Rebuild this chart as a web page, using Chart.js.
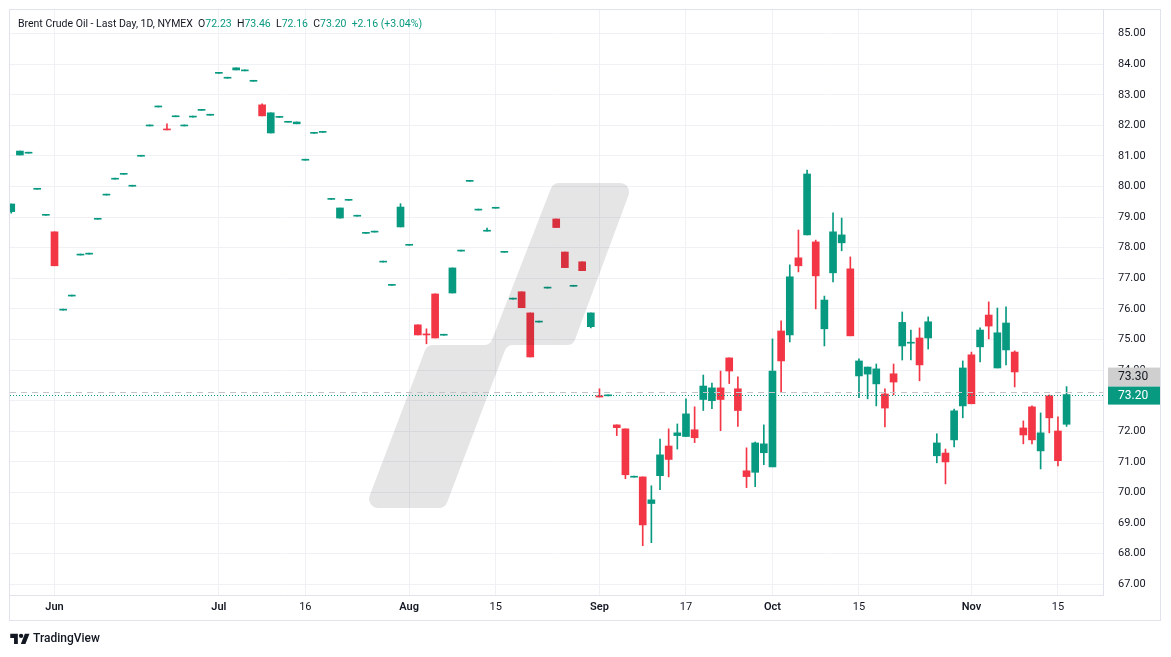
<!DOCTYPE html>
<html>
<head>
<meta charset="utf-8">
<script src="https://cdn.jsdelivr.net/npm/chart.js@4.4.0/dist/chart.umd.min.js"></script>
<style>
  body { margin: 0; background: #fff; }
  #wrap { position: relative; width: 1171px; height: 657px; font-family: Roboto, "Noto Sans", sans-serif; color: #131722; }
  #chart { position: absolute; left: 0; top: 0; }
  #legend { position: absolute; left: 18px; top: 17px; font-size: 10.5px; white-space: pre; }
  #legend .g { color: #089981; }
  #logo { position: absolute; left: 10px; top: 631px; font-size: 12px; font-weight: 500; display: flex; align-items: center; }
  #logo svg { margin-right: 3px; }
</style>
</head>
<body>
<div id="wrap">
  <canvas id="chart" width="1171" height="657"></canvas>
  <div id="legend"></div>
  <div id="logo">
    <svg width="20" height="13" viewBox="0 0 36 24"><path d="M14 22H7V11H0V3h14v19z" fill="#131722"/><circle cx="20" cy="7" r="4" fill="#131722"/><path d="M28 22h-8.5L27 3h8.5L28 22z" fill="#131722"/></svg>
    <span>TradingView</span>
  </div>
</div>
<script>
// trading days shown on the chart
var tradingDays = {
    May: [24, 28, 29, 30, 31],
    Jun: [3, 4, 5, 6, 7, 10, 11, 12, 13, 14, 17, 18, 20, 21, 24, 25, 26, 27, 28],
    Jul: [1, 2, 3, 5, 8, 9, 10, 11, 12, 15, 16, 17, 18, 19, 22, 23, 24, 25, 26, 29, 30, 31],
    Aug: [1, 2, 5, 6, 7, 8, 9, 12, 13, 14, 15, 16, 19, 20, 21, 22, 23, 26, 27, 28, 29, 30],
    Sep: [3, 4, 5, 6, 9, 10, 11, 12, 13, 16, 17, 18, 19, 20, 23, 24, 25, 26, 27, 30],
    Oct: [1, 2, 3, 4, 7, 8, 9, 10, 11, 14, 15, 16, 17, 18, 21, 22, 23, 24, 25, 28, 29, 30, 31],
    Nov: [1, 4, 5, 6, 7, 8, 11, 12, 13, 14, 15, 18]
};
var dates = [];
for (var m in tradingDays) {
    tradingDays[m].forEach(function (d) { dates.push(m + ' ' + d); });
}

var open = [
    79.18, 81.03, 81.09, 79.91, 79.06,
    78.52, 75.96, 76.42, 77.76, 77.79, 78.93, 79.72, 80.24, 80.40, 80.01,
    80.99, 81.98, 82.60, 81.88, 82.28, 81.98, 82.27, 82.49, 82.33, 83.70,
    83.54, 83.81, 83.78, 83.44, 82.67, 81.75, 82.26, 82.10, 82.05, 80.86,
    81.74, 81.77, 79.58, 78.97, 79.55, 79.03, 78.47, 78.51, 77.53, 76.77,
    78.68, 78.08, 75.48, 75.17, 76.49, 75.14, 76.52, 77.89, 80.17, 79.23,
    78.54, 79.29, 77.85, 76.32, 76.56, 75.87, 75.57, 76.68, 78.94, 77.86,
    76.74, 77.54, 75.42, 73.16, 73.16, 72.21, 72.08, 70.50, 70.51, 69.64,
    70.55, 71.52, 71.86, 71.83, 72.05, 73.04, 73.00, 73.42, 74.40, 73.39,
    70.71, 70.66, 71.30, 70.84, 75.28, 75.15, 77.67, 78.42, 78.19, 75.35,
    77.18, 78.16, 77.31, 73.81, 73.87, 73.55, 73.22, 73.88, 74.79, 74.88,
    75.05, 75.05, 71.20, 71.29, 71.72, 72.83, 74.50, 74.76, 75.80, 74.07,
    74.66, 74.59, 72.11, 72.80, 71.36, 73.16, 72.01, 72.23
];
var high = [
    79.43, 81.16, 81.09, 79.91, 79.06,
    78.52, 75.96, 76.42, 77.76, 77.79, 78.93, 79.72, 80.24, 80.40, 80.01,
    80.99, 81.98, 82.60, 82.05, 82.28, 81.98, 82.27, 82.49, 82.33, 83.70,
    83.54, 83.88, 83.78, 83.44, 82.70, 82.41, 82.26, 82.10, 82.11, 80.86,
    81.74, 81.77, 79.58, 79.30, 79.55, 79.03, 78.47, 78.51, 77.53, 76.77,
    79.44, 78.08, 75.48, 75.35, 76.49, 75.14, 77.34, 77.89, 80.17, 79.23,
    78.64, 79.29, 77.85, 76.32, 76.56, 75.87, 75.57, 76.68, 78.94, 77.86,
    76.74, 77.54, 75.87, 73.39, 73.16, 72.21, 72.08, 70.50, 70.51, 70.22,
    71.75, 72.08, 72.24, 73.06, 72.80, 73.84, 73.58, 73.97, 74.40, 73.78,
    71.46, 71.65, 72.21, 75.02, 75.61, 77.44, 78.58, 80.54, 78.25, 76.42,
    79.14, 78.97, 77.70, 74.37, 74.10, 74.20, 73.39, 74.20, 75.90, 75.31,
    75.38, 75.74, 71.92, 71.42, 72.73, 74.30, 74.59, 75.38, 76.23, 76.03,
    76.07, 74.63, 72.34, 72.83, 72.60, 73.19, 72.47, 73.46
];
var low = [
    79.13, 81.03, 81.09, 79.91, 79.06,
    77.41, 75.96, 76.42, 77.76, 77.79, 78.93, 79.72, 80.24, 80.40, 80.01,
    80.99, 81.98, 82.60, 81.85, 82.28, 81.98, 82.27, 82.49, 82.33, 83.70,
    83.54, 83.81, 83.78, 83.44, 82.31, 81.75, 82.26, 82.10, 82.05, 80.86,
    81.74, 81.77, 79.58, 78.97, 79.55, 79.03, 78.47, 78.51, 77.53, 76.77,
    78.68, 78.08, 75.15, 74.86, 75.05, 75.14, 76.52, 77.89, 80.17, 79.23,
    78.54, 79.29, 77.85, 76.32, 76.04, 74.43, 75.57, 76.68, 78.66, 77.35,
    76.74, 77.25, 75.38, 73.12, 73.16, 71.86, 70.45, 70.50, 68.26, 68.36,
    70.09, 70.51, 71.42, 71.83, 71.63, 72.68, 72.74, 72.02, 73.56, 72.16,
    70.16, 70.19, 70.91, 70.84, 73.29, 74.92, 77.21, 78.42, 76.00, 74.79,
    76.88, 77.90, 75.12, 73.10, 73.06, 72.83, 72.14, 73.19, 74.33, 74.33,
    73.65, 74.69, 70.97, 70.28, 71.49, 72.44, 72.90, 74.27, 75.02, 74.07,
    74.17, 73.45, 71.59, 71.59, 70.77, 71.95, 70.87, 72.16
];
var close = [
    79.43, 81.16, 81.09, 79.91, 79.06,
    77.41, 75.96, 76.42, 77.76, 77.79, 78.93, 79.72, 80.24, 80.40, 80.01,
    80.99, 81.98, 82.60, 81.85, 82.28, 81.98, 82.27, 82.49, 82.33, 83.70,
    83.54, 83.88, 83.78, 83.44, 82.31, 82.41, 82.26, 82.10, 82.11, 80.86,
    81.74, 81.77, 79.58, 79.30, 79.55, 79.03, 78.47, 78.51, 77.53, 76.77,
    79.33, 78.08, 75.15, 75.15, 75.05, 75.14, 77.34, 77.89, 80.17, 79.23,
    78.54, 79.29, 77.85, 76.32, 76.04, 74.43, 75.57, 76.68, 78.66, 77.35,
    76.74, 77.25, 75.87, 73.12, 73.16, 72.12, 70.58, 70.50, 68.94, 69.76,
    71.23, 71.08, 71.95, 72.57, 71.79, 73.48, 73.42, 73.04, 73.97, 72.68,
    70.52, 71.62, 71.59, 73.97, 74.30, 77.05, 77.41, 80.41, 77.08, 76.29,
    78.52, 78.42, 75.12, 74.30, 74.10, 74.04, 72.76, 73.61, 75.56, 74.88,
    74.17, 75.58, 71.62, 71.00, 72.67, 74.07, 72.90, 75.31, 75.44, 75.22,
    75.54, 73.94, 71.88, 71.72, 71.95, 72.44, 71.04, 73.20
];

var tickDates = ['Jun 3', 'Jul 1', 'Jul 16', 'Aug 1', 'Aug 15', 'Sep 3', 'Sep 17', 'Oct 1', 'Oct 15', 'Nov 1', 'Nov 15'];
var tickLabels = ['Jun', 'Jul', '16', 'Aug', '15', 'Sep', '17', 'Oct', '15', 'Nov', '15'];
var refPrice = 73.30;

var up = '#089981', down = '#f23645';
var colors = close.map(function (c, i) { return c >= open[i] ? up : down; });
var last = close.length - 1;
var lastPrice = close[last];

// legend line
var chg = close[last] - close[last - 1];
var pct = chg / close[last - 1] * 100;
document.getElementById('legend').innerHTML =
    'Brent Crude Oil - Last Day, 1D, NYMEX  O<span class="g">' + open[last].toFixed(2) +
    '</span>  H<span class="g">' + high[last].toFixed(2) +
    '</span>  L<span class="g">' + low[last].toFixed(2) +
    '</span>  C<span class="g">' + close[last].toFixed(2) +
    '</span>  <span class="g">+' + chg.toFixed(2) + ' (+' + pct.toFixed(2) + '%)</span>';

function noPad(scale) {
    scale.paddingTop = 0;
    scale.paddingBottom = 0;
    scale.paddingLeft = 0;
    scale.paddingRight = 0;
}

// rounded polygon for the logo watermark
function roundPoly(ctx, pts, r) {
    var n = pts.length;
    ctx.beginPath();
    var s = [(pts[0][0] + pts[1][0]) / 2, (pts[0][1] + pts[1][1]) / 2];
    ctx.moveTo(s[0], s[1]);
    for (var i = 1; i <= n; i++) {
        var p = pts[i % n], q = pts[(i + 1) % n];
        ctx.arcTo(p[0], p[1], q[0], q[1], r);
    }
    ctx.closePath();
}

var overlay = {
    id: 'overlay',
    afterDatasetsDraw: function (chart) {
        var ctx = chart.ctx, a = chart.chartArea, y = chart.scales.y;
        ctx.save();
        ctx.beginPath();
        ctx.rect(a.left, a.top, a.right - a.left, a.bottom - a.top);
        ctx.clip();
        // watermark
        ctx.fillStyle = 'rgba(0,0,0,0.1)';
        roundPoly(ctx, [[553, 183], [633, 183], [573, 345], [507, 345], [445, 508],
                        [365, 508], [427, 345], [490, 345]], 9);
        ctx.fill();
        // price lines
        var yr = Math.round(y.getPixelForValue(refPrice)) + 0.5;
        ctx.strokeStyle = '#c3c5ca';
        ctx.lineWidth = 1;
        ctx.setLineDash([6, 5]);
        ctx.beginPath(); ctx.moveTo(a.left, yr); ctx.lineTo(a.right, yr); ctx.stroke();
        var yl = Math.round(y.getPixelForValue(lastPrice)) + 0.5;
        ctx.strokeStyle = up;
        ctx.setLineDash([1, 2]);
        ctx.beginPath(); ctx.moveTo(a.left, yl); ctx.lineTo(a.right, yl); ctx.stroke();
        ctx.restore();
    },
    afterDraw: function (chart) {
        var ctx = chart.ctx, a = chart.chartArea, y = chart.scales.y;
        ctx.save();
        var yl = y.getPixelForValue(lastPrice);
        ctx.font = '12px Roboto, sans-serif';
        ctx.textBaseline = 'middle';
        ctx.fillStyle = '#cfcfcf';
        ctx.fillRect(a.right + 5, yl - 27, 52, 19);
        ctx.fillStyle = '#131722';
        ctx.fillText(refPrice.toFixed(2), a.right + 15, yl - 17.5);
        ctx.fillStyle = up;
        ctx.fillRect(a.right + 5, yl - 8, 52, 18);
        ctx.fillStyle = '#ffffff';
        ctx.fillText(lastPrice.toFixed(2), a.right + 15, yl + 1);
        // frame
        ctx.strokeStyle = '#e0e3eb';
        ctx.lineWidth = 1;
        ctx.strokeRect(9.5, 9.5, 1151, 611);
        ctx.restore();
    }
};

var ctx = document.getElementById('chart').getContext('2d');
var chart = new Chart(ctx, {
    type: 'bar',
    data: {
        labels: dates,
        datasets: [{
            // bodies
            data: open.map(function (o, i) { return { x: i, y: [o, close[i]] }; }),
            backgroundColor: colors,
            barThickness: 7,
            minBarLength: 1,
            grouped: false,
            order: 1
        }, {
            // wicks
            data: low.map(function (l, i) { return { x: i, y: [l, high[i]] }; }),
            backgroundColor: colors,
            barThickness: 1,
            minBarLength: 1,
            grouped: false,
            order: 2
        }]
    },
    options: {
        responsive: false,
        animation: false,
        layout: { padding: { left: 10, top: 10, right: 11, bottom: 37 } },
        plugins: { legend: { display: false }, tooltip: { enabled: false } },
        scales: {
            x: {
                type: 'linear',
                offset: false,
                min: -0.145,
                max: 126.21,
                grid: { color: '#f0f1f4', drawTicks: false, offset: false },
                border: { color: '#e0e3eb' },
                afterBuildTicks: function (scale) {
                    scale.ticks = tickDates.map(function (d) { return { value: dates.indexOf(d) }; });
                },
                afterFit: function (scale) { scale.height = 25; noPad(scale); },
                ticks: {
                    autoSkip: false,
                    maxRotation: 0,
                    padding: 6,
                    color: '#131722',
                    font: function (c) {
                        var t = tickLabels[c.index] || '';
                        return { size: 11, family: 'Roboto', weight: /^[A-Z]/.test(t) ? '600' : '400' };
                    },
                    callback: function (v, i) { return tickLabels[i]; }
                }
            },
            y: {
                position: 'right',
                min: 66.65,
                max: 85.77,
                grid: { color: '#f0f1f4', drawTicks: false },
                border: { color: '#e0e3eb' },
                afterFit: function (scale) { scale.width = 57; noPad(scale); },
                ticks: {
                    stepSize: 1,
                    includeBounds: false,
                    padding: 15,
                    color: '#131722',
                    font: { size: 11, family: 'Roboto' },
                    callback: function (v) { return v.toFixed(2); }
                }
            }
        }
    },
    plugins: [overlay]
});
</script>
</body>
</html>
